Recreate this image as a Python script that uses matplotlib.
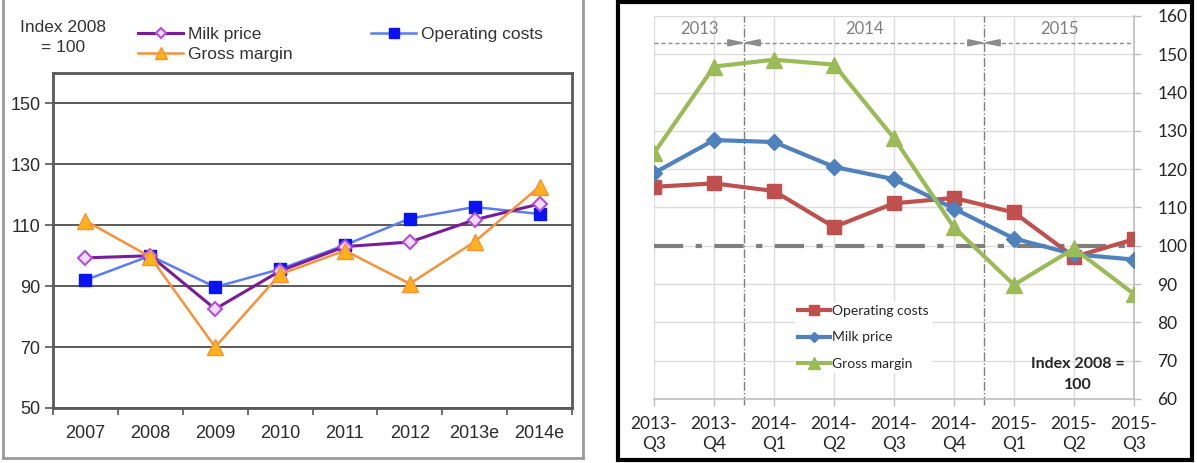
import matplotlib
matplotlib.use("Agg")
import matplotlib.pyplot as plt
from matplotlib.lines import Line2D
from matplotlib.patches import Rectangle, Polygon

# annual index, 2008 = 100
years = ['2007', '2008', '2009', '2010', '2011', '2012', '2013e', '2014e']
milk_annual = [99.3, 100, 82.5, 95, 103, 104.5, 111.8, 117]
opcost_annual = [92, 100, 89.7, 95.6, 103.5, 112.2, 116, 113.7]
gross_annual = [111.5, 99.6, 70, 93.9, 101.7, 90.8, 104.6, 122.7]

# quarterly index, 2008 = 100
quarters = ['2013-\nQ3', '2013-\nQ4', '2014-\nQ1', '2014-\nQ2', '2014-\nQ3',
            '2014-\nQ4', '2015-\nQ1', '2015-\nQ2', '2015-\nQ3']
opcost_q = [115.4, 116.3, 114.3, 104.9, 111.1, 112.5, 108.7, 97.1, 101.7]
milk_q = [119, 127.6, 127.1, 120.6, 117.4, 109.7, 101.9, 97.8, 96.4]
gross_q = [124.2, 146.8, 148.6, 147.3, 128.1, 104.8, 89.8, 99.3, 87.4]

year_labels = ['2013', '2014', '2015']
year_breaks = [1.5, 5.5]

W, H = 1197, 463
fig = plt.figure(figsize=(W / 100, H / 100), dpi=100)

# ---------------- left: annual chart ----------------
lfont = 'Liberation Sans'
axL = fig.add_axes([53 / W, 1 - 408 / H, (572 - 53) / W, (408 - 73) / H])
xa = range(len(years))
axL.plot(xa, opcost_annual, color='#5b7cf5', lw=1.8, marker='s', ms=9,
         mfc='#0a14f0', mec='#0a14f0', label='Operating costs', zorder=3)
axL.plot(xa, milk_annual, color='#7a1c9a', lw=2.2, marker='D', ms=7,
         mfc='#f3dcff', mec='#b050e0', mew=1.5, label='Milk price', zorder=4)
axL.plot(xa, gross_annual, color='#f7913a', lw=1.8, marker='^', ms=11,
         mfc='#ffb21c', mec='#f7913a', label='Gross margin', zorder=5)

axL.set_xlim(-0.5, len(years) - 0.5)
axL.set_ylim(50, 160)
axL.set_yticks([50, 70, 90, 110, 130, 150])
axL.set_xticks(list(xa))
axL.set_xticklabels(years)
axL.set_xticks([i - 0.5 for i in range(len(years) + 1)], minor=True)
axL.tick_params(axis='x', which='major', length=0, pad=12)
axL.tick_params(axis='x', which='minor', length=5, width=1.2, color='#555555')
axL.tick_params(axis='y', length=6, width=1.2, color='#555555', pad=3)
for lab in axL.get_xticklabels() + axL.get_yticklabels():
    lab.set_fontfamily(lfont)
    lab.set_fontsize(13)
    lab.set_color('#2b2b2b')
axL.yaxis.grid(True, color='#4d4d4d', lw=1.3)
axL.set_axisbelow(True)
for s in axL.spines.values():
    s.set_color('#5a5a5a')
    s.set_linewidth(2)

fig.text(63 / W, 1 - 27 / H, 'Index 2008', ha='center', va='center',
         fontsize=12.5, family=lfont, color='#333333')
fig.text(63 / W, 1 - 48 / H, '= 100', ha='center', va='center',
         fontsize=12.5, family=lfont, color='#333333')

hL, lL = axL.get_legend_handles_labels()
order = [1, 2, 0]
legL = fig.legend([hL[i] for i in order], [lL[i] for i in order], ncol=2,
                  loc='upper left', bbox_to_anchor=(138 / W, 1 - 27 / H),
                  frameon=False, prop={'family': lfont, 'size': 12.5},
                  handlelength=2.6, handletextpad=0.3, columnspacing=4.5,
                  labelspacing=0.25, markerscale=0.75, borderpad=0, borderaxespad=0)
for t in legL.get_texts():
    t.set_color('#333333')

# grey frame around the left panel
for xs, ys in [([3, 3], [0, 458]), ([583, 583], [0, 458]), ([3, 583], [458, 458])]:
    fig.add_artist(Line2D([x / W for x in xs], [1 - y / H for y in ys],
                          color='#9a9a9a', lw=2))

# ---------------- right: quarterly chart ----------------
rfont = ['Lato', 'DejaVu Sans']
axR = fig.add_axes([654 / W, 1 - 399 / H, 480 / W, 383 / H])
xq = range(len(quarters))
red, blue, green = '#c0504d', '#4f81bd', '#9bbb59'
axR.plot(xq, opcost_q, color=red, lw=3, marker='s', ms=10, label='Operating costs', zorder=3)
axR.plot(xq, milk_q, color=blue, lw=3, marker='D', ms=8, label='Milk price', zorder=4)
axR.plot(xq, gross_q, color=green, lw=3, marker='^', ms=12, label='Gross margin', zorder=5)

axR.set_xlim(0, len(quarters) - 1)
axR.set_ylim(60, 160)
axR.set_yticks(range(60, 161, 10))
axR.set_xticks(list(xq))
axR.set_xticklabels(quarters)
axR.yaxis.tick_right()
axR.tick_params(axis='x', length=5, width=1, color='#bfbfbf', pad=7)
axR.tick_params(axis='y', length=5, width=1, color='#bfbfbf', pad=12)
for lab in axR.get_xticklabels() + axR.get_yticklabels():
    lab.set_fontfamily(rfont)
    lab.set_fontsize(12.5)
    lab.set_color('#262626')
for lab in axR.get_xticklabels():
    lab.set_linespacing(1.3)
axR.grid(True, color='#dcdcdc', lw=1)
axR.set_axisbelow(True)
for side in ['top', 'left']:
    axR.spines[side].set_visible(False)
for side in ['bottom', 'right']:
    axR.spines[side].set_color('#bfbfbf')
    axR.spines[side].set_linewidth(1.2)

# 2008 reference level
axR.axhline(100, color='#7f7f7f', lw=3, ls=(0, (7, 3, 1.5, 3)), zorder=2)

# year dividers and the dashed year band
band_y = 153
axR.plot([0, len(quarters) - 1], [band_y, band_y], color='#8c8c8c', lw=1,
         ls=(0, (3, 2)), zorder=2)
for b in year_breaks:
    axR.plot([b, b], [58.4, 160], color='#7f7f7f', lw=1, ls='-.',
             clip_on=False, zorder=2)
    for d in (-1, 1):
        axR.add_patch(Polygon([[b + d * 0.02, band_y], [b + d * 0.27, band_y + 0.8],
                               [b + d * 0.27, band_y - 0.8]],
                              closed=True, color='#8c8c8c', zorder=3))
bounds = [0] + year_breaks + [len(quarters) - 1]
for i, yl in enumerate(year_labels):
    axR.text((bounds[i] + bounds[i + 1]) / 2, 156.6, yl, ha='center', va='center',
             fontsize=12, family=rfont, color='#7f7f7f')

axR.text(7.07, 69.1, 'Index 2008 =', ha='center', va='center', fontsize=11.5,
         family=rfont, weight='bold', color='#262626')
axR.text(7.07, 63.6, '100', ha='center', va='center', fontsize=11.5,
         family=rfont, weight='bold', color='#262626')

legR = axR.legend(loc='upper left', bbox_to_anchor=(795 / W, 1 - 302 / H),
                  bbox_transform=fig.transFigure, frameon=True, fancybox=False,
                  facecolor='white', edgecolor='none', framealpha=1,
                  prop={'family': rfont, 'size': 10}, handlelength=2.3,
                  handletextpad=0.2, labelspacing=1.05, markerscale=0.7,
                  borderpad=0.2, borderaxespad=0)
for t in legR.get_texts():
    t.set_color('#262626')

# black frame around the right panel
fig.add_artist(Rectangle((618 / W, 1 - 460 / H), (1192 - 618) / W, (460 - 2) / H,
                         transform=fig.transFigure, fill=False, edgecolor='black', lw=3))

fig.savefig('out.png', dpi=100)
